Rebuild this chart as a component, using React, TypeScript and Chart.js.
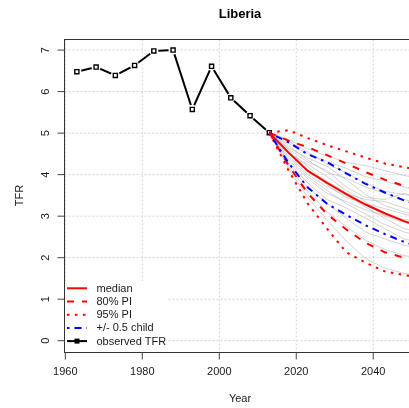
import React, { useEffect, useRef } from 'react';
import { Chart, registerables } from 'chart.js';

Chart.register(...registerables);

const chartTitle = 'Liberia';
const xAxisTitle = 'Year';
const yAxisTitle = 'TFR';

// Observed total fertility rate, five-year periods
const observedYears = [1963, 1968, 1973, 1978, 1983, 1988, 1993, 1998, 2003, 2008, 2013];
const observedTFR = [6.48, 6.59, 6.39, 6.63, 6.98, 7.0, 5.57, 6.61, 5.85, 5.42, 5.01];

// Projection periods
const projectionYears = [2013, 2018, 2023, 2028, 2033, 2038, 2043, 2048, 2053];
const medianTFR = [5.01, 4.53, 4.09, 3.8, 3.53, 3.28, 3.07, 2.88, 2.73];
const pi80Upper = [5.01, 4.82, 4.66, 4.47, 4.27, 4.06, 3.88, 3.73, 3.6];
const pi80Lower = [5.01, 4.22, 3.55, 3.05, 2.68, 2.36, 2.13, 2.0, 1.94];
const pi95Upper = [5.01, 5.07, 4.88, 4.71, 4.56, 4.41, 4.27, 4.18, 4.1];
const pi95Lower = [5.01, 4.1, 3.3, 2.7, 2.13, 1.88, 1.67, 1.58, 1.53];
const halfChildUpper = [5.01, 4.78, 4.49, 4.3, 4.03, 3.78, 3.57, 3.38, 3.23];
const halfChildLower = [5.01, 4.28, 3.69, 3.3, 3.03, 2.78, 2.57, 2.38, 2.23];

// A sample of simulated trajectories
const trajectories: number[][] = [
  [5.01, 4.85, 4.62, 4.45, 4.3, 4.22, 4.1, 3.98, 3.9],
  [5.01, 4.7, 4.35, 4.05, 3.92, 3.7, 3.55, 3.4, 3.3],
  [5.01, 4.4, 3.95, 3.62, 3.3, 3.05, 2.8, 2.62, 2.5],
  [5.01, 4.55, 4.2, 3.75, 3.45, 3.3, 3.18, 3.05, 2.95],
  [5.01, 4.2, 3.6, 3.1, 2.75, 2.42, 2.2, 2.05, 1.98],
  [5.01, 4.65, 4.4, 4.2, 3.88, 3.52, 3.25, 3.1, 3.0],
  [5.01, 4.3, 3.8, 3.4, 3.2, 2.95, 2.7, 2.45, 2.35],
  [5.01, 4.75, 4.5, 4.32, 4.15, 3.95, 3.85, 3.7, 3.62],
  [5.01, 4.15, 3.45, 2.9, 2.4, 1.98, 1.75, 1.62, 1.58],
  [5.01, 4.6, 4.1, 3.85, 3.55, 3.4, 3.35, 3.2, 3.05],
  [5.01, 4.5, 4.25, 3.95, 3.62, 3.35, 3.0, 2.85, 2.72],
  [5.01, 4.35, 3.9, 3.55, 3.35, 3.15, 3.02, 2.92, 2.85],
  [5.01, 4.8, 4.55, 4.25, 4.05, 3.78, 3.6, 3.52, 3.45],
  [5.01, 4.25, 3.7, 3.3, 2.95, 2.62, 2.45, 2.3, 2.2],
  [5.01, 4.62, 4.3, 4.1, 3.7, 3.45, 3.4, 3.55, 3.42],
  [5.01, 4.45, 4.0, 3.7, 3.5, 3.22, 2.95, 2.7, 2.6],
];

const xTickValues = [1960, 1980, 2000, 2020, 2040];
const yTickValues = [0, 1, 2, 3, 4, 5, 6, 7];
const legendLabels = ['median', '80% PI', '95% PI', '+/- 0.5 child', 'observed TFR'];

const FONT = '"Liberation Sans", Arial, Helvetica, sans-serif';
const RED = '#ff0000';
const BLUE = '#0000ff';
const DASHED = [7, 8];
const DOTTED = [2.5, 5.5];
const DOTDASH = [2.5, 5, 7, 5];

const toPoints = (xs: number[], ys: number[]) => xs.map((x, i) => ({ x, y: ys[i] }));

const projLine = (data: number[], color: string, dash: number[], order: number) => ({
  data: toPoints(projectionYears, data),
  borderColor: color,
  borderWidth: 2,
  borderDash: dash,
  pointRadius: 0,
  tension: 0,
  fill: false,
  order,
});

const framePlugin = {
  id: 'rFrame',
  beforeDatasetsDraw(chart: any) {
    const { ctx, chartArea: a, scales } = chart;
    ctx.save();
    ctx.strokeStyle = '#d3d3d3';
    ctx.lineWidth = 1;
    ctx.setLineDash([2, 2]);
    xTickValues.forEach((v) => {
      const x = scales.x.getPixelForValue(v);
      ctx.beginPath();
      ctx.moveTo(x, a.top);
      ctx.lineTo(x, a.bottom);
      ctx.stroke();
    });
    yTickValues.forEach((v) => {
      const y = scales.y.getPixelForValue(v);
      ctx.beginPath();
      ctx.moveTo(a.left, y);
      ctx.lineTo(a.right, y);
      ctx.stroke();
    });
    ctx.restore();
  },
  afterDatasetsDraw(chart: any) {
    const { ctx, chartArea: a, scales } = chart;
    ctx.save();

    // legend
    const lgLeft = a.left + 0.5;
    const rowY = [288.3, 301.5, 314.7, 327.9, 341.1];
    ctx.fillStyle = '#ffffff';
    ctx.fillRect(lgLeft, 281, 101, a.bottom - 281 - 0.5);
    const styles = [
      { color: RED, dash: [] as number[] },
      { color: RED, dash: DASHED },
      { color: RED, dash: DOTTED },
      { color: BLUE, dash: DOTDASH },
      { color: '#000000', dash: [] as number[] },
    ];
    ctx.font = `11px ${FONT}`;
    ctx.textBaseline = 'middle';
    ctx.textAlign = 'left';
    legendLabels.forEach((label, i) => {
      const y = rowY[i];
      ctx.strokeStyle = styles[i].color;
      ctx.lineWidth = 2;
      ctx.setLineDash(styles[i].dash);
      ctx.beginPath();
      ctx.moveTo(67, y);
      ctx.lineTo(87, y);
      ctx.stroke();
      ctx.setLineDash([]);
      if (i === 4) {
        ctx.fillStyle = '#000000';
        ctx.fillRect(74.5, y - 2.5, 5, 5);
      }
      ctx.fillStyle = '#1a1a1a';
      ctx.fillText(label, 96.5, y + 0.5);
    });

    // box
    ctx.setLineDash([]);
    ctx.strokeStyle = '#333333';
    ctx.lineWidth = 1;
    ctx.strokeRect(a.left, a.top, a.right - a.left, a.bottom - a.top);

    // ticks and tick labels
    ctx.strokeStyle = '#444444';
    ctx.fillStyle = '#1a1a1a';
    ctx.font = `11px ${FONT}`;
    xTickValues.forEach((v) => {
      const x = scales.x.getPixelForValue(v);
      ctx.beginPath();
      ctx.moveTo(x, a.bottom);
      ctx.lineTo(x, a.bottom + 7);
      ctx.stroke();
      ctx.textAlign = 'center';
      ctx.textBaseline = 'middle';
      ctx.fillText(String(v), x, 372);
    });
    yTickValues.forEach((v) => {
      const y = scales.y.getPixelForValue(v);
      ctx.beginPath();
      ctx.moveTo(a.left, y);
      ctx.lineTo(a.left - 7, y);
      ctx.stroke();
      ctx.save();
      ctx.translate(45.5, y);
      ctx.rotate(-Math.PI / 2);
      ctx.textAlign = 'center';
      ctx.textBaseline = 'middle';
      ctx.fillText(String(v), 0, 0);
      ctx.restore();
    });

    // axis titles
    ctx.textAlign = 'center';
    ctx.textBaseline = 'middle';
    ctx.fillText(xAxisTitle, 240, 398.5);
    ctx.save();
    ctx.translate(20, 195.5);
    ctx.rotate(-Math.PI / 2);
    ctx.fillText(yAxisTitle, 0, 0);
    ctx.restore();

    // title
    ctx.font = `bold 13px ${FONT}`;
    ctx.fillStyle = '#000000';
    ctx.fillText(chartTitle, 240, 14);

    ctx.restore();
  },
};

export default function App() {
  const canvasRef = useRef<HTMLCanvasElement | null>(null);

  useEffect(() => {
    const canvas = canvasRef.current;
    if (!canvas) return;

    const datasets: any[] = [];
    trajectories.forEach((t) => {
      datasets.push({
        data: toPoints(projectionYears, t),
        borderColor: 'rgba(175,175,175,0.55)',
        borderWidth: 1,
        pointRadius: 0,
        tension: 0,
        fill: false,
        order: 20,
      });
    });
    datasets.push(projLine(pi95Lower, RED, DOTTED, 6));
    datasets.push(projLine(pi95Upper, RED, DOTTED, 6));
    datasets.push(projLine(pi80Lower, RED, DASHED, 5));
    datasets.push(projLine(pi80Upper, RED, DASHED, 5));
    datasets.push(projLine(halfChildLower, BLUE, DOTDASH, 4));
    datasets.push(projLine(halfChildUpper, BLUE, DOTDASH, 4));
    datasets.push(projLine(medianTFR, RED, [], 3));
    // observed line with gaps around the points
    datasets.push({
      data: toPoints(observedYears, observedTFR),
      borderColor: '#000000',
      borderWidth: 2,
      pointStyle: 'circle',
      pointRadius: 4.6,
      pointBackgroundColor: '#ffffff',
      pointBorderWidth: 0,
      tension: 0,
      fill: false,
      order: 8,
    });
    datasets.push({
      data: toPoints(observedYears, observedTFR),
      showLine: false,
      pointStyle: 'rect',
      pointRadius: 2.9,
      pointBackgroundColor: '#ffffff',
      pointBorderColor: '#000000',
      pointBorderWidth: 1.4,
      order: 7,
    });

    const chart = new Chart(canvas, {
      type: 'line',
      data: { datasets },
      options: {
        responsive: false,
        animation: false,
        devicePixelRatio: 1,
        events: [],
        layout: { padding: { left: 64.5, top: 39.5, right: 4.5, bottom: 55.5 } },
        plugins: { legend: { display: false }, tooltip: { enabled: false }, title: { display: false } },
        scales: {
          x: { type: 'linear', display: false, min: 1959.79, max: 2050.75 },
          y: { type: 'linear', display: false, min: -0.284, max: 7.255 },
        },
      },
      plugins: [framePlugin],
    });
    return () => chart.destroy();
  }, []);

  return (
    <div style={{ position: 'fixed', left: 0, top: 0, width: 409, height: 408, overflow: 'hidden', background: '#ffffff' }}>
      <canvas ref={canvasRef} width={420} height={408} style={{ display: 'block' }} />
    </div>
  );
}
